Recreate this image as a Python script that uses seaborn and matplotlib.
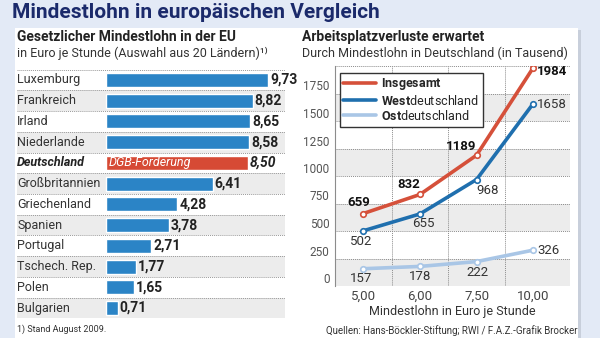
import matplotlib
matplotlib.use("Agg")
import matplotlib.pyplot as plt
import seaborn as sns
import pandas as pd
from matplotlib.patches import Rectangle
from matplotlib.lines import Line2D
from matplotlib.transforms import blended_transform_factory

# ---------------- data ----------------
countries = ["Luxemburg", "Frankreich", "Irland", "Niederlande", "Deutschland",
             "Großbritannien", "Griechenland", "Spanien", "Portugal",
             "Tschech. Rep.", "Polen", "Bulgarien"]
wages = [9.73, 8.82, 8.65, 8.58, 8.50, 6.41, 4.28, 3.78, 2.71, 1.77, 1.65, 0.71]
highlight = "Deutschland"

wage_levels = ["5,00", "6,00", "7,50", "10,00"]
total = [659, 832, 1189, 1984]
west = [502, 655, 968, 1658]
east = [157, 178, 222, 326]
y_ticks = [0, 250, 500, 750, 1000, 1250, 1500, 1750, 2000]

# ---------------- style ----------------
sns.set_theme(style="white")
FONTS = ["Roboto", "DejaVu Sans"]
plt.rcParams["font.family"] = FONTS
plt.rcParams["mathtext.fontset"] = "custom"
plt.rcParams["mathtext.rm"] = FONTS[0]
plt.rcParams["mathtext.bf"] = FONTS[0] + ":bold"

NAVY = "#1b2a6b"
BLUE = "#2b84c6"
RED = "#d64a35"
C_TOTAL = "#d5503a"
C_WEST = "#1f6fae"
C_EAST = "#a9c6e6"
BAND = "#ececec"
TXT = "#333333"

W, H = 600, 338
fig = plt.figure(figsize=(6, 3.38), dpi=100)
fig.patch.set_facecolor("#e3eaf6")
fig.patches.append(Rectangle((578 / W, 0), 3 / W, (H - 30) / H, transform=fig.transFigure,
                             facecolor="#c8cfdb", edgecolor="none", zorder=-2))
fig.patches.append(Rectangle((15 / W, 0), (578 - 15) / W, (H - 28) / H, transform=fig.transFigure,
                             facecolor="white", edgecolor="none", zorder=-1))

def fx(px):
    return px / W

def fy(py):
    return 1 - py / H

fig.text(fx(12), fy(12), "Mindestlohn in europäischen Vergleich", color=NAVY,
         fontsize=15, fontweight="bold", ha="left", va="center")

# ---------------- left: bar chart ----------------
fig.text(fx(17), fy(37), "Gesetzlicher Mindestlohn in der EU", color="#222222",
         fontsize=10, fontweight="bold", ha="left", va="center")
fig.text(fx(17), fy(53), "in Euro je Stunde (Auswahl aus 20 Ländern)\u00b9\u207e", color=TXT,
         fontsize=9, ha="left", va="center")
fig.text(fx(17), fy(329), "1) Stand August 2009.", color=TXT, fontsize=6.5, ha="left", va="center")

ax1 = fig.add_axes([fx(17), (H - 318.4) / H, 268 / W, 248.8 / H])
df = pd.DataFrame({"country": countries, "wage": wages})
df["group"] = ["hl" if c == highlight else "std" for c in countries]
sns.barplot(data=df, y="country", x="wage", hue="group", palette={"hl": RED, "std": BLUE},
            dodge=False, width=0.68, orient="h", legend=False, ax=ax1, zorder=3,
            saturation=1)
ax1.set_xlim(-5.35, 10.75)
ax1.set_ylim(len(countries) - 0.5, -0.5)
ax1.axis("off")
tr = blended_transform_factory(ax1.transAxes, ax1.transData)
for i, (c, w) in enumerate(zip(countries, wages)):
    if i % 2 == 1:
        ax1.axhspan(i - 0.5, i + 0.5, color=BAND, zorder=0, lw=0)
    ax1.axhline(i + 0.5, color="#999999", ls=(0, (1, 1)), lw=0.7, zorder=1)
    is_hl = c == highlight
    ax1.text(0.0, i, c, transform=tr, ha="left", va="center", fontsize=9,
             color="#222222" if is_hl else TXT,
             fontweight="bold" if is_hl else "normal",
             style="italic" if is_hl else "normal")
    ax1.text(w + 0.12, i, f"{w:.2f}".replace(".", ","), ha="left", va="center",
             fontsize=10, fontweight="bold", color="#222222",
             style="italic" if is_hl else "normal", zorder=4)
    if is_hl:
        ax1.text(0.15, i, "DGB-Forderung", ha="left", va="center", fontsize=9,
                 color="white", style="italic", zorder=4)
ax1.axhline(-0.5, color="#999999", ls=(0, (1, 1)), lw=0.7, zorder=1)

# ---------------- right: line chart ----------------
fig.text(fx(302), fy(37), "Arbeitsplatzverluste erwartet", color="#222222",
         fontsize=10, fontweight="bold", ha="left", va="center")
fig.text(fx(302), fy(53), "Durch Mindestlohn in Deutschland (in Tausend)", color=TXT,
         fontsize=9, ha="left", va="center")
fig.text(fx(578), fy(331), "Quellen: Hans-Böckler-Stiftung; RWI / F.A.Z.-Grafik Brocker",
         color=TXT, fontsize=7, ha="right", va="center")

ax2 = fig.add_axes([fx(335), (H - 286) / H, 235 / W, 220 / H])
ax2.set_facecolor("none")
for k in y_ticks[:-1:2]:
    ax2.axhspan(k, k + 250, color=BAND, zorder=0, lw=0)

series = [("Insgesamt", total, C_TOTAL), ("West", west, C_WEST), ("Ost", east, C_EAST)]
pos = list(range(len(wage_levels)))
for name, vals, col in series:
    d = pd.DataFrame({"pos": pos, "val": vals})
    sns.lineplot(data=d, x="pos", y="val", color=col, lw=2.6, marker="o", markersize=4,
                 markerfacecolor="white", markeredgecolor=col, markeredgewidth=1.2,
                 ax=ax2, zorder=4)

ax2.set_xlim(-0.5, 3.65)
ax2.set_ylim(0, 2000)
ax2.set_yticks(y_ticks)
ax2.set_yticklabels([str(v) for v in y_ticks[:-1]] + [""])
ax2.set_xticks(pos)
ax2.set_xticklabels(wage_levels)
ax2.set_xticks([0.5, 1.5, 2.5], minor=True)
ax2.grid(False)
ax2.yaxis.grid(True, color="#8c8c8c", ls=(0, (1, 1)), lw=0.7, zorder=1)
ax2.xaxis.grid(True, which="minor", color="#8c8c8c", ls=(0, (1, 1)), lw=0.7, zorder=1)
ax2.tick_params(axis="y", length=0, pad=4, labelsize=8.5, labelcolor="#555555")
ax2.tick_params(axis="x", which="both", length=0, pad=3, labelsize=9.5, labelcolor="#444444")
for lab in ax2.get_yticklabels():
    lab.set_va("bottom")
for s in ["top", "right", "bottom"]:
    ax2.spines[s].set_visible(False)
ax2.spines["left"].set_color("#8c8c8c")
ax2.spines["left"].set_linewidth(0.8)
ax2.set_ylabel("")
ax2.set_xlabel("Mindestlohn in Euro je Stunde", fontsize=9, color=TXT, labelpad=1)

# point labels (offsets in pixels)
offsets_total = [(-5, 11, "center"), (-11, 10, "center"), (-16, 9, "center"), (4, -4, "left")]
offsets_west = [(-2, -11, "center"), (3, -10, "center"), (11, -11, "center"), (4, -1, "left")]
offsets_east = [(-2, -10, "center"), (0, -10, "center"), (1, -11, "center"), (4, 0, "left")]
for vals, offs, bold, col in [(total, offsets_total, True, "#111111"),
                              (west, offsets_west, False, TXT),
                              (east, offsets_east, False, TXT)]:
    for p, v, (dx, dy, ha) in zip(pos, vals, offs):
        ax2.annotate(str(v), (p, v), xytext=(dx, dy), textcoords="offset pixels",
                     ha=ha, va="center", fontsize=9.5, color=col,
                     fontweight="bold" if bold else "normal", zorder=5)

handles = [Line2D([], [], color=c, lw=2.6) for _, _, c in series]
labels = [r"$\mathbf{Insgesamt}$", r"$\mathbf{West}$deutschland", r"$\mathbf{Ost}$deutschland"]
leg = ax2.legend(handles, labels, loc="upper left", bbox_to_anchor=(0.02, 0.97),
                 frameon=True, fancybox=False, fontsize=9, handlelength=2.6,
                 handletextpad=0.4, labelspacing=0.1, borderpad=0.3, borderaxespad=0)
leg.get_frame().set_edgecolor("#333333")
leg.get_frame().set_linewidth(1.0)
leg.get_frame().set_facecolor("white")
leg.get_frame().set_alpha(1)
leg.set_zorder(6)

fig.savefig("out.png", dpi=100, facecolor=fig.get_facecolor())
